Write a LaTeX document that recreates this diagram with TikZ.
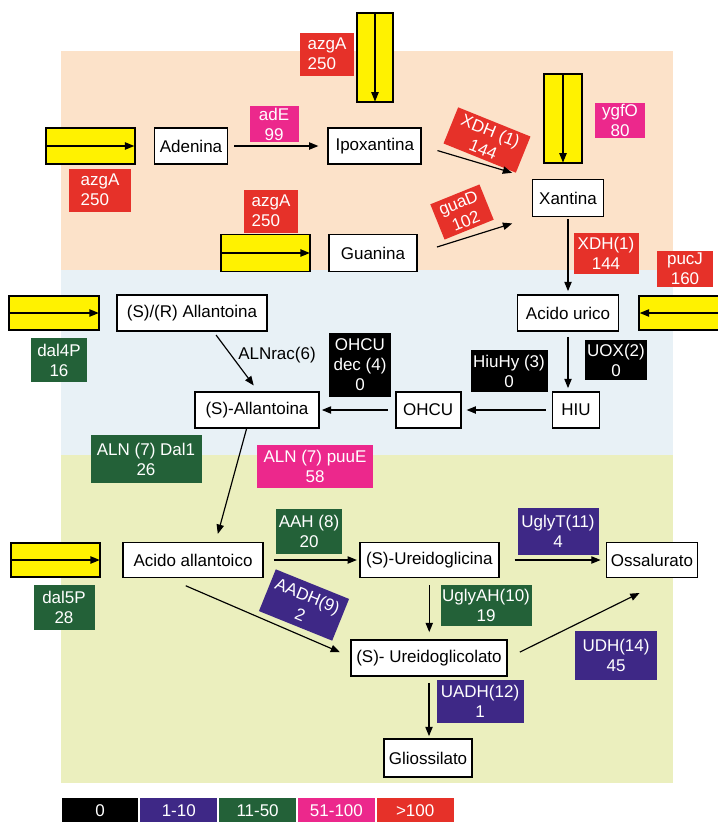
\documentclass[tikz,border=0pt]{standalone}
\usepackage{fontspec}
\setmainfont{Liberation Sans}
\usetikzlibrary{positioning}
\usetikzlibrary{arrows.meta}

\definecolor{peach}{RGB}{252,226,201}
\definecolor{paleblue}{RGB}{232,241,246}
\definecolor{palegreen}{RGB}{235,239,190}
\definecolor{enzred}{RGB}{230,49,41}
\definecolor{enzpink}{RGB}{236,40,140}
\definecolor{enzgreen}{RGB}{35,97,56}
\definecolor{enzpurple}{RGB}{62,40,134}
\definecolor{tyellow}{RGB}{255,242,0}

\begin{document}
\begin{tikzpicture}[x=0.3mm, y=-0.3mm,
  font=\fontsize{14.5pt}{17pt}\selectfont,
  met/.style={draw, line width=1.5pt, fill=white, minimum height=10.8mm, inner sep=1pt},
  enz/.style args={#1/#2/#3}{fill=#1, text=white, align=center, minimum width=#2, minimum height=#3, inner sep=1pt},
  tport/.style={draw, line width=1.5pt, fill=tyellow, minimum width=26.7mm, minimum height=10.8mm},
  arr/.style={-{Triangle[length=2.8mm,width=2.2mm]}, line width=1pt}]
  \useasboundingbox (0,0) rectangle (717,822);
  \fill[peach] (61,51) rectangle (673,270);
  \fill[paleblue] (61,270) rectangle (673,455);
  \fill[palegreen] (61,455) rectangle (673,783);

  \node (ade) [met, minimum width=21.9mm] at (191,146) {Adenina};
  \node (ipo) [met, minimum width=27.9mm, right=29.7mm of ade] {Ipoxantina};
  \node (xan) [met, minimum width=21.3mm, minimum height=11.1mm] at (568,198) {Xantina};
  \node (gua) [met, minimum width=26.4mm, minimum height=11.1mm] at (373,253) {Guanina};
  \node (uri) [met, minimum width=30.3mm] at (568,313) {Acido urico};
  \node (srl) [met, minimum width=45mm] at (192,313) {(S)/(R) Allantoina};
  \node (hiu) [met, minimum width=14.1mm] at (576,410) {HIU};
  \node (ohc) [met, minimum width=19.5mm, left=27mm of hiu] {OHCU};
  \node (sal) [met, minimum width=37.2mm, left=22.5mm of ohc] {(S)-Allantoina};
  \node (aal) [met, minimum width=42mm, minimum height=10.5mm] at (193,560) {Acido allantoico};
  \node (ugc) [met, minimum width=41.7mm, minimum height=10.5mm, right=28.5mm of aal] {(S)-Ureidoglicina};
  \node (oss) [met, minimum width=27.3mm, minimum height=10.5mm, right=31.8mm of ugc] {Ossalurato};
  \node (ugl) [met, minimum width=46.8mm] at (429,658) {(S)- Ureidoglicolato};
  \node (gli) [met, minimum width=26.4mm, minimum height=11.4mm] at (428,758) {Gliossilato};

  \node (t1) [tport, left=5.4mm of ade] {};
  \node (t2) [tport, minimum width=10.8mm, minimum height=26.7mm] at (375,57.5) {};
  \node (t3) [tport, minimum width=11.4mm, minimum height=26.7mm] at (563,118.5) {};
  \node (t4) [tport, minimum height=11.1mm, left=5.1mm of gua] {};
  \node (t5) [tport, minimum width=27mm, minimum height=10.2mm, left=4.8mm of srl] {};
  \node (t6) [tport, minimum height=10.2mm, right=5.7mm of uri] {};
  \node (t7) [tport, minimum height=10.2mm, left=6.3mm of aal] {};
  \draw[arr, shorten >=0.4mm] (t1.west) -- (t1.east);
  \draw[arr, shorten >=0.4mm] (t2.north) -- (t2.south);
  \draw[arr, shorten >=0.4mm] (t3.north) -- (t3.south);
  \draw[arr, shorten >=0.4mm] (t4.west) -- (t4.east);
  \draw[arr, shorten >=0.4mm] (t5.west) -- (t5.east);
  \draw[arr, shorten >=0.4mm] (t6.east) -- (t6.west);
  \draw[arr, shorten >=0.4mm] (t7.west) -- (t7.east);

  \node (e1) [enz=enzred/16.2mm/12.9mm, align=left] at (327,54) {azgA\\250};
  \node (e2) [enz=enzpink/14.7mm/10.8mm] at (274,124) {adE\\99};
  \node (e3) [enz=enzred/18.6mm/12.9mm, align=left] at (100,190) {azgA\\250};
  \node (e4) [enz=enzred/23.4mm/11.7mm, rotate=-22] at (487,140) {XDH (1)\\144};
  \node (e5) [enz=enzpink/15mm/10.5mm] at (620,120) {ygfO\\80};
  \node (e6) [enz=enzred/16.2mm/12.9mm, align=left] at (271,211) {azgA\\250};
  \node (e7) [enz=enzred/15.9mm/11.4mm, rotate=22] at (462,212) {guaD\\102};
  \node (e8) [enz=enzred/19.5mm/12.3mm] at (606,253) {XDH(1)\\144};
  \node (e9) [enz=enzred/16.8mm/10.8mm] at (685,269) {pucJ\\160};
  \node (e10) [enz=enzgreen/16.8mm/13.2mm] at (59,360) {dal4P\\16};
  \node (e11) at (277,355) {ALNrac(6)};
  \node (e12) [enz=black/18.6mm/19.2mm] at (360,365) {OHCU\\dec (4)\\0};
  \node (e13) [enz=black/23.1mm/12.6mm] at (509,371) {HiuHy (3)\\0};
  \node (e14) [enz=black/18.6mm/12mm] at (616,360) {UOX(2)\\0};
  \node (e15) [enz=enzgreen/33.3mm/14.4mm] at (146,459) {ALN (7) Dal1\\26};
  \node (e16) [enz=enzpink/34.8mm/12.9mm] at (315,466) {ALN (7) puuE\\58};
  \node (e17) [enz=enzgreen/19.8mm/13.5mm] at (309,531) {AAH (8)\\20};
  \node (e18) [enz=enzpurple/24.3mm/14.1mm] at (558,531) {UglyT(11)\\4};
  \node (e19) [enz=enzpurple/23.7mm/13.5mm, rotate=-22] at (304,605) {AADH(9)\\2};
  \node (e20) [enz=enzgreen/18.3mm/13.5mm] at (64,607) {dal5P\\28};
  \node (e21) [enz=enzgreen/27.3mm/12.3mm] at (486,605) {UglyAH(10)\\19};
  \node (e22) [enz=enzpurple/24.6mm/14.7mm] at (616,655) {UDH(14)\\45};
  \node (e23) [enz=enzpurple/26.1mm/12.9mm] at (480,701) {UADH(12)\\1};

  \draw[arr, shorten <=1.8mm, shorten >=2.7mm] (ade) -- (ipo);
  \draw[arr, shorten <=4.8mm, shorten >=6.1mm] (ipo.east) -- (xan.north west);
  \draw[arr, shorten <=6mm, shorten >=6.1mm] (gua.east) -- (xan.south west);
  \draw[arr, shorten <=0.6mm, shorten >=0.9mm] (xan) -- (uri);
  \draw[arr, shorten <=1.5mm, shorten >=0.9mm] (uri.south) -- (uri.south |- hiu.north);
  \draw[arr, shorten <=1.8mm, shorten >=1.5mm] (hiu) -- (ohc);
  \draw[arr, shorten <=2.1mm, shorten >=0.6mm] (ohc) -- (sal);
  \draw[arr, shorten <=1.2mm, shorten >=2.1mm] (srl.-41) -- (sal.87);
  \draw[arr, shorten >=2.4mm] (sal.-119) -- (aal.39);
  \draw[arr, shorten <=3mm, shorten >=0.6mm] (aal) -- (ugc);
  \draw[arr, shorten <=4.5mm, shorten >=1.5mm] (ugc) -- (oss);
  \draw[arr, shorten <=5.6mm, shorten >=3.3mm] (aal.-143) -- (ugl.179);
  \draw[arr, shorten <=2.1mm, shorten >=2.1mm] (ugc.south) -- (ugc.south |- ugl.north);
  \draw[arr, shorten <=4mm, shorten >=9.9mm] (ugl.east) -- (oss.-47);
  \draw[arr, shorten <=1.8mm, shorten >=0.6mm] (ugl.south) -- (ugl.south |- gli.north);

  \foreach \c/\t [count=\i] in {black/0, enzpurple/1-10, enzgreen/11-50, enzpink/51-100, enzred/>100}
    \node (leg\i) [fill=\c, text=white, minimum width=23mm, minimum height=7.5mm, inner sep=0pt]
      at (100+78.8*\i-78.8, 810.5) {\t};
\end{tikzpicture}
\end{document}
